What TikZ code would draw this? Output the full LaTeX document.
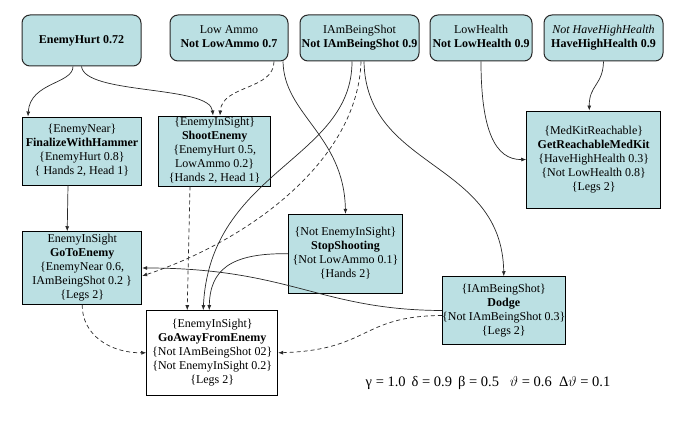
\documentclass[tikz,border=0pt]{standalone}
\usepackage{fontspec}
\setmainfont{Liberation Serif}
\usepackage{tikz}
\usetikzlibrary{arrows.meta}
\definecolor{goalcyan}{RGB}{187,224,227}
\definecolor{edgegray}{RGB}{40,40,40}
\tikzset{
    goalbox/.style={draw=edgegray, line width=1pt, rounded corners=8pt, fill=goalcyan, inner sep=0pt},
    actbox/.style={draw, line width=0.9pt, fill=goalcyan, inner sep=0pt},
    link/.style={draw=edgegray, line width=0.7pt, -{Latex[length=5pt,width=4pt]}},
    weak/.style={link, dash pattern=on 4pt off 3pt}
}

\begin{document}
\begin{tikzpicture}[x=1pt, y=-1pt, font=\fontsize{12}{14}\selectfont]
                \useasboundingbox (0,0) rectangle (680,425);
                % goals
                \node[goalbox, minimum width=119pt, minimum height=51pt] (hurt) at (81.5,40.5) {
                    \textbf{EnemyHurt 0.72}
                };
                \node[goalbox, minimum width=118pt, minimum height=46pt] (ammo) at (229,38) {
                    \begin{tabular}{@{}c@{}}
                        Low Ammo\\
                        \textbf{Not LowAmmo 0.7}
                    \end{tabular}
                };
                \node[goalbox, minimum width=119pt, minimum height=46pt] (beingshot) at (359.5,38) {
                    \begin{tabular}{@{}c@{}}
                        IAmBeingShot\\
                        \textbf{Not IAmBeingShot 0.9}
                    \end{tabular}
                };
                \node[goalbox, minimum width=102pt, minimum height=46pt] (lowhealth) at (481,38) {
                    \begin{tabular}{@{}c@{}}
                        LowHealth\\
                        \textbf{Not LowHealth 0.9}
                    \end{tabular}
                };
                \node[goalbox, minimum width=119pt, minimum height=46pt] (highhealth) at (603.5,38) {
                    \begin{tabular}{@{}c@{}}
                        \textit{Not HaveHighHealth}\\
                        \textbf{HaveHighHealth 0.9}
                    \end{tabular}
                };
                % actions
                \node[actbox, minimum width=119pt, minimum height=68pt] (hammer) at (82,151) {
                    \begin{tabular}{@{}c@{}}
                        \{EnemyNear\}\\
                        \textbf{FinalizeWithHammer}\\
                        \{EnemyHurt 0.8\}\\
                        \{ Hands 2, Head 1\}
                    \end{tabular}
                };
                \node[actbox, minimum width=112pt, minimum height=68pt] (shoot) at (214.7,151) {
                    \begin{tabular}{@{}c@{}}
                        \{EnemyInSight\}\\
                        \textbf{ShootEnemy}\\
                        \{EnemyHurt 0.5,\\
                        LowAmmo 0.2\}\\
                        \{Hands 2, Head 1\}
                    \end{tabular}
                };
                \node[actbox, minimum width=134pt, minimum height=97pt] (medkit) at (593.7,159.5) {
                    \begin{tabular}{@{}c@{}}
                        \{MedKitReachable\}\\
                        \textbf{GetReachableMedKit}\\
                        \{HaveHighHealth 0.3\}\\
                        \{Not LowHealth 0.8\}\\
                        \{Legs 2\}
                    \end{tabular}
                };
                \node[actbox, minimum width=119pt, minimum height=72.6pt] (gotoenemy) at (82.2,268) {
                    \begin{tabular}{@{}c@{}}
                        EnemyInSight\\
                        \textbf{GoToEnemy}\\
                        \{EnemyNear 0.6,\\
                        IAmBeingShot 0.2 \}\\
                        \{Legs 2\}
                    \end{tabular}
                };
                \node[actbox, minimum width=114.4pt, minimum height=78.7pt] (stopshoot) at (345.5,253.7) {
                    \begin{tabular}{@{}c@{}}
                        \{Not EnemyInSight\}\\
                        \textbf{StopShooting}\\
                        \{Not LowAmmo 0.1\}\\
                        \{Hands 2\}
                    \end{tabular}
                };
                \node[actbox, minimum width=113pt, minimum height=67.6pt] (dodge) at (503.8,310.5) {
                    \begin{tabular}{@{}c@{}}
                        \{IAmBeingShot\}\\
                        \textbf{Dodge}\\
                        \{Not IAmBeingShot 0.3\}\\
                        \{Legs 2\}
                    \end{tabular}
                };
                \node[actbox, fill=white, minimum width=131pt, minimum height=84.3pt] (goaway) at (212.2,352.8) {
                    \begin{tabular}{@{}c@{}}
                        \{EnemyInSight\}\\
                        \textbf{GoAwayFromEnemy}\\
                        \{Not IAmBeingShot 02\}\\
                        \{Not EnemyInSight 0.2\}\\
                        \{Legs 2\}
                    \end{tabular}
                };
                % parameters
                \node[font=\fontsize{14.5}{16}\selectfont] (params) at (488,382.7) {
                    γ = 1.0 \,δ = 0.9 \,β = 0.5 \ \ $\vartheta$ = 0.6 \ Δ$\vartheta$ = 0.1
                };
                % links
                \draw[link] ([xshift=-8.5pt]hurt.south) .. controls (73,84) and (30,82) .. ([xshift=-54pt]hammer.north);
                \draw[link] (hurt.south) .. controls (85,95) and (210,85) .. ([xshift=-1.7pt]shoot.north);
                \draw[weak] ([xshift=45pt]ammo.south) .. controls (274,90) and (222,85) .. ([xshift=5.3pt]shoot.north);
                \draw[link] ([xshift=54pt]ammo.south) .. controls (284,115) and (344,135) .. (stopshoot.north);
                \draw[link] ([xshift=-7.5pt]beingshot.south) .. controls (352,160) and (210,170) .. ([xshift=-9pt]goaway.north);
                \draw[weak] ([xshift=1.5pt]beingshot.south) .. controls (358,160) and (250,240) .. ([yshift=-8pt]gotoenemy.east);
                \draw[link] ([xshift=4.5pt]beingshot.south) .. controls (366,170) and (502,160) .. (dodge.north);
                \draw[weak] ([xshift=-24.7pt]shoot.south) -- ([xshift=-25pt]goaway.north);
                \draw[link] ([xshift=-14pt]hammer.south) -- ([xshift=-15pt]gotoenemy.north);
                \draw[link] (stopshoot.west) .. controls (230,253) and (210,270) .. ([xshift=-3pt]goaway.north);
                \draw[link] (dodge.west) .. controls (320,310) and (290,268) .. (gotoenemy.east);
                \draw[weak] ([yshift=-5pt]dodge.west) .. controls (360,316) and (370,350) .. (goaway.east);
                \draw[weak] (gotoenemy.south) .. controls (82,335) and (110,353) .. (goaway.west);
                \draw[link] (lowhealth.south) .. controls (481,130) and (495,160) .. (medkit.west);
                \draw[link] (highhealth.south) .. controls (603,85) and (589,85) .. ([xshift=-4.4pt]medkit.north);
            \end{tikzpicture}
\end{document}
